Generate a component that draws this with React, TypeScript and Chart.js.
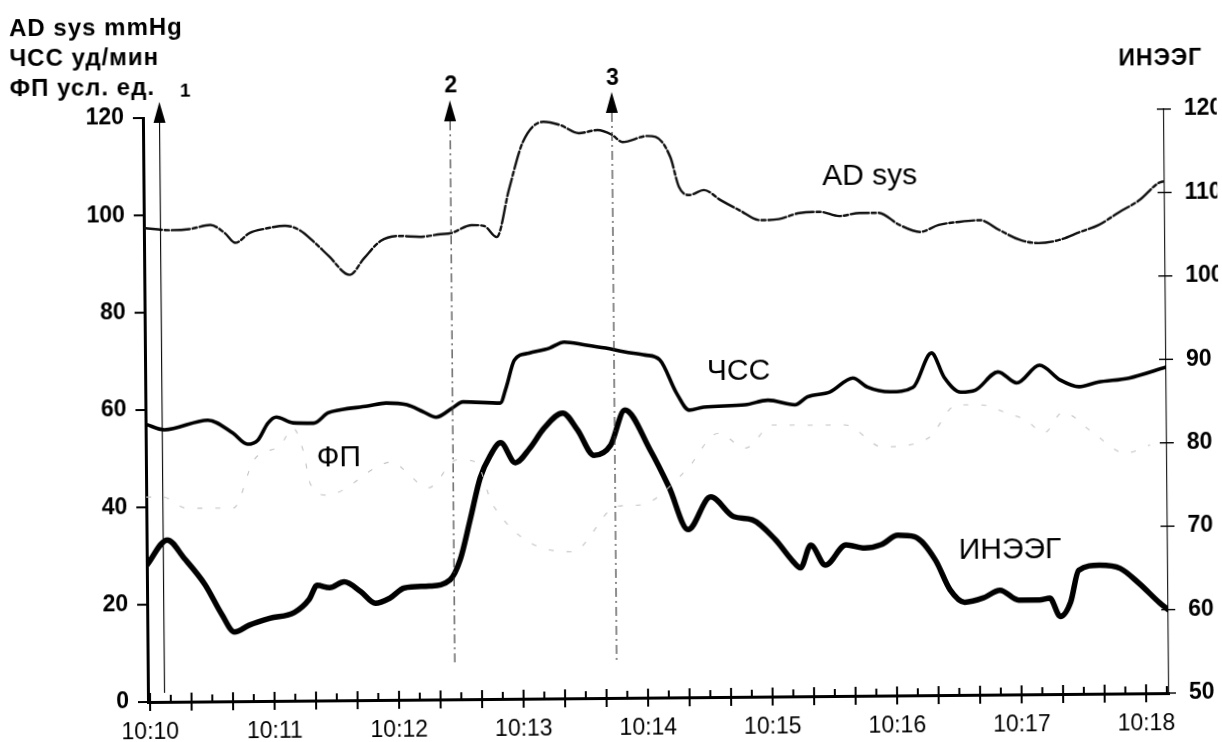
import React, { useEffect, useRef } from 'react';
import { Chart, registerables } from 'chart.js';

Chart.register(...registerables);

// ---- Data (time in seconds after 10:10:00) ----
const xTickSeconds = [0, 60, 120, 180, 240, 300, 360, 420, 480];
const xTickLabels = ['10:10', '10:11', '10:12', '10:13', '10:14', '10:15', '10:16', '10:17', '10:18'];
const leftTicks = [0, 20, 40, 60, 80, 100, 120];
const rightTicks = [50, 60, 70, 80, 90, 100, 110, 120];

const adTimes = [-1, 12, 21, 31, 38, 43, 50, 57, 67, 74, 81, 88, 98, 105, 113, 122, 132, 142, 147, 157, 163, 169, 175, 182, 192, 200, 209, 218, 225, 230, 242, 246, 253, 257, 262, 269, 277, 286, 296, 305, 315, 325, 334, 344, 353, 363, 373, 382, 392, 402, 411, 421, 430, 440, 450, 459, 469, 479, 488, 491];
const adValues = [97.4, 96.9, 97.1, 97.9, 96.2, 94.2, 96.2, 97.0, 97.6, 96.7, 94.2, 91.3, 87.4, 90.8, 94.3, 95.3, 95.1, 95.6, 95.8, 97.4, 97.2, 94.9, 104.5, 114.4, 118.5, 117.8, 116.1, 116.7, 115.7, 114.2, 115.4, 115.2, 111.0, 104.9, 103.2, 104.2, 102.1, 100.0, 97.9, 98.1, 99.3, 99.5, 98.6, 99.2, 99.2, 96.7, 95.2, 96.6, 97.2, 97.5, 95.5, 93.4, 92.7, 93.3, 94.9, 96.3, 98.9, 101.4, 104.8, 105.2];

const hrTimes = [-1, 8, 29, 41, 48, 53, 58, 62, 70, 80, 87, 93, 106, 115, 125, 133, 139, 147, 152, 170, 173, 177, 184, 194, 201, 211, 221, 230, 240, 247, 255, 261, 268, 288, 299, 312, 318, 329, 340, 347, 358, 369, 378, 384, 392, 399, 410, 419, 430, 440, 449, 458, 473, 491];
const hrValues = [57.1, 55.9, 57.8, 55.1, 52.8, 53.6, 57.1, 58.3, 57.1, 57.0, 59.1, 59.7, 60.4, 61.0, 60.6, 59.1, 58.0, 59.9, 61.1, 60.8, 64.1, 69.6, 71.0, 72.0, 73.2, 72.6, 71.9, 71.1, 70.4, 69.4, 62.5, 59.0, 59.6, 60.0, 60.9, 59.9, 61.5, 62.5, 65.3, 63.4, 62.4, 63.3, 70.3, 65.3, 62.2, 62.6, 66.3, 64.0, 67.6, 64.5, 63.1, 64.0, 64.8, 67.0];

const fpTimes = [-1, 7, 18, 41, 51, 64, 70, 75, 78, 86, 118, 123, 135, 149, 158, 166, 204, 226, 237, 259, 275, 288, 301, 318, 336, 354, 376, 390, 403, 414, 423, 432, 441, 455, 471, 483];
const fpValues = [42.1, 42.1, 39.8, 39.7, 49.5, 52.6, 56.0, 51.1, 44.7, 42.2, 48.9, 47.4, 43.5, 49.2, 48.7, 39.9, 30.1, 39.4, 39.6, 46.5, 54.2, 51.1, 55.8, 55.7, 55.7, 51.1, 52.8, 59.6, 59.5, 57.8, 56.4, 53.7, 57.9, 53.8, 49.4, 51.0];

const eegTimes = [-1, 9, 17, 27, 35, 41, 48, 58, 70, 77, 81, 87, 94, 102, 109, 116, 123, 135, 145, 150, 155, 160, 165, 170, 177, 184, 191, 200, 207, 215, 223, 230, 242, 251, 260, 271, 282, 291, 302, 310, 314, 319, 326, 336, 345, 353, 361, 369, 379, 386, 393, 402, 410, 419, 429, 434, 439, 444, 448, 458, 468, 477, 487, 491];
const eegValues = [66.4, 69.4, 67.2, 64.0, 60.4, 58.3, 59.1, 59.9, 60.6, 62.1, 63.8, 63.5, 64.2, 63.0, 61.6, 62.2, 63.4, 63.6, 64.3, 66.7, 71.5, 76.5, 79.2, 80.7, 78.3, 80.0, 82.4, 84.2, 82.2, 79.1, 80.3, 84.5, 79.7, 75.2, 70.1, 74.0, 71.6, 71.2, 68.8, 66.3, 65.4, 68.1, 65.7, 68.1, 67.7, 68.1, 69.2, 69.0, 66.2, 62.6, 61.1, 61.6, 62.5, 61.3, 61.3, 61.5, 59.3, 61.0, 64.8, 65.4, 65.0, 63.2, 60.8, 60.0];

const markerTimes = [7, 147, 225];
const markerLabels = ['1', '2', '3'];
const seriesNames = ['AD sys', 'ЧСС', 'ФП', 'ИНЭЭГ'];
const axisTitlesLeft = ['AD sys mmHg', 'ЧСС уд/мин', 'ФП усл. ед.'];
const axisTitleRight = 'ИНЭЭГ';

const FONT = '"Liberation Sans", Arial, Helvetica, sans-serif';

const toPoints = (ts: number[], vs: number[]) => ts.map((t, i) => ({ x: t, y: vs[i] }));

const overlayPlugin = {
  id: 'overlay',
  afterDraw(chart: any) {
    const ctx = chart.ctx as CanvasRenderingContext2D;
    const xs = chart.scales.x;
    const yl = chart.scales.yL;
    const yr = chart.scales.yR;
    const a = chart.chartArea;
    ctx.save();
    ctx.strokeStyle = '#000';
    ctx.fillStyle = '#000';

    // x-axis tick marks (every 10 s, long every 20 s)
    ctx.lineWidth = 2;
    const xEnd = xs.max;
    for (let s = 0; s <= xEnd; s += 10) {
      const px = xs.getPixelForValue(s);
      const long = s % 20 === 0;
      ctx.beginPath();
      ctx.moveTo(px, a.bottom - (long ? 9 : 7));
      ctx.lineTo(px, a.bottom + (long ? 9 : 0));
      ctx.stroke();
    }
    // left ticks
    ctx.lineWidth = 2;
    leftTicks.forEach((v) => {
      const py = yl.getPixelForValue(v);
      ctx.beginPath();
      ctx.moveTo(a.left - 10, py);
      ctx.lineTo(a.left, py);
      ctx.stroke();
    });
    // right ticks (crossing)
    ctx.lineWidth = 1.4;
    rightTicks.forEach((v) => {
      const py = yr.getPixelForValue(v);
      ctx.beginPath();
      ctx.moveTo(a.right - 7, py);
      ctx.lineTo(a.right + 7, py);
      ctx.stroke();
    });

    // event markers (arrows)
    const tips = [102, 103, 96];
    const lineEnds = [693, 668, 668];
    const labelPos = [
      { dx: 26, y: 97, size: 19 },
      { dx: 1, y: 95, size: 23 },
      { dx: 1, y: 89, size: 23 },
    ];
    markerTimes.forEach((t, i) => {
      const px = xs.getPixelForValue(t);
      const tip = tips[i];
      const base = tip + 21;
      ctx.beginPath();
      ctx.moveTo(px, tip);
      ctx.lineTo(px - 6, base);
      ctx.lineTo(px + 6, base);
      ctx.closePath();
      ctx.fill();
      ctx.beginPath();
      ctx.lineWidth = 1.1;
      ctx.strokeStyle = i === 0 ? '#000' : '#333';
      ctx.setLineDash(i === 0 ? [] : [9, 4, 2, 4]);
      ctx.moveTo(px, base);
      ctx.lineTo(px, lineEnds[i]);
      ctx.stroke();
      ctx.setLineDash([]);
      ctx.font = `bold ${labelPos[i].size}px ${FONT}`;
      ctx.textAlign = 'center';
      ctx.textBaseline = 'alphabetic';
      ctx.fillText(markerLabels[i], px + labelPos[i].dx, labelPos[i].y);
    });

    // axis titles
    ctx.font = `bold 24px ${FONT}`;
    ctx.textAlign = 'left';
    ctx.textBaseline = 'alphabetic';
    (ctx as any).letterSpacing = '1px';
    axisTitlesLeft.forEach((s, i) => ctx.fillText(s, 15, 34.5 + i * 30));
    ctx.font = `bold 23px ${FONT}`;
    ctx.fillText(axisTitleRight, 1124, 74);
    (ctx as any).letterSpacing = '0px';

    // series labels
    ctx.font = `30px ${FONT}`;
    ctx.textAlign = 'center';
    ctx.textBaseline = 'middle';
    const anchors = [
      { t: 349, v: 106.6 },
      { t: 285, v: 66.9 },
      { t: 92, v: 49.8 },
      { t: 415, v: 29.7 },
    ];
    seriesNames.forEach((s, i) => {
      ctx.fillText(s, xs.getPixelForValue(anchors[i].t), yl.getPixelForValue(anchors[i].v));
    });
    ctx.restore();
  },
};

export default function App() {
  const ref = useRef<HTMLCanvasElement | null>(null);
  useEffect(() => {
    if (!ref.current) return;
    Chart.defaults.font.family = FONT;
    const common = { pointRadius: 0, fill: false, cubicInterpolationMode: 'monotone' as const, borderCapStyle: 'round' as const, borderJoinStyle: 'round' as const };
    const chart = new Chart(ref.current, {
      type: 'line',
      data: {
        datasets: [
          { ...common, label: 'ФП', data: toPoints(fpTimes, fpValues), yAxisID: 'yL', borderColor: '#c4c4c4', borderWidth: 1.1, borderDash: [5, 13], borderCapStyle: 'butt' },
          { ...common, label: 'AD sys', data: toPoints(adTimes, adValues), yAxisID: 'yL', borderColor: '#111', borderWidth: 2.4, borderDash: [18, 3, 4, 3] },
          { ...common, label: 'ЧСС', data: toPoints(hrTimes, hrValues), yAxisID: 'yL', borderColor: '#000', borderWidth: 3.6 },
          { ...common, label: 'ИНЭЭГ', data: toPoints(eegTimes, eegValues), yAxisID: 'yR', borderColor: '#000', borderWidth: 5.5 },
        ],
      },
      options: {
        responsive: false,
        animation: false,
        devicePixelRatio: 1,
        layout: { padding: { top: 118, left: 0, right: 0, bottom: 0 } },
        plugins: { legend: { display: false }, tooltip: { enabled: false } },
        scales: {
          x: {
            type: 'linear',
            min: -1,
            max: 491,
            afterBuildTicks: (axis: any) => { axis.ticks = xTickSeconds.map((v) => ({ value: v })); },
            afterFit: (axis: any) => { axis.height = 40; },
            grid: { display: false, drawTicks: false },
            border: { display: true, color: '#000', width: 3 },
            ticks: {
              autoSkip: false,
              maxRotation: 0,
              padding: 17,
              color: '#000',
              font: { size: 23, family: FONT },
              callback: (_v: any, i: number) => xTickLabels[i],
            },
          },
          yL: {
            type: 'linear',
            position: 'left',
            min: 0,
            max: 120,
            afterBuildTicks: (axis: any) => { axis.ticks = leftTicks.map((v) => ({ value: v })); },
            afterFit: (axis: any) => { axis.width = 148; },
            grid: { display: false, drawTicks: false },
            border: { display: true, color: '#000', width: 3 },
            ticks: { padding: 19, color: '#000', font: { size: 23, weight: 'bold', family: FONT } },
          },
          yR: {
            type: 'linear',
            position: 'right',
            min: 50,
            max: 120,
            afterBuildTicks: (axis: any) => { axis.ticks = rightTicks.map((v) => ({ value: v })); },
            afterFit: (axis: any) => { axis.width = 53; },
            grid: { display: false, drawTicks: false },
            border: { display: true, color: '#222', width: 1.2, dash: [10, 4, 2, 4] },
            ticks: { padding: 20, color: '#000', font: { size: 23, weight: 'bold', family: FONT } },
          },
        },
      },
      plugins: [overlayPlugin],
    } as any);
    return () => chart.destroy();
  }, []);

  return (
    <div style={{ position: 'absolute', left: 0, top: 0, width: 1222, height: 742, overflow: 'hidden', background: '#fff' }}>
      <canvas
        ref={ref}
        width={1222}
        height={742}
        style={{ display: 'block', transform: 'rotate(-0.5deg)', transformOrigin: '148px 702px' }}
      />
    </div>
  );
}
